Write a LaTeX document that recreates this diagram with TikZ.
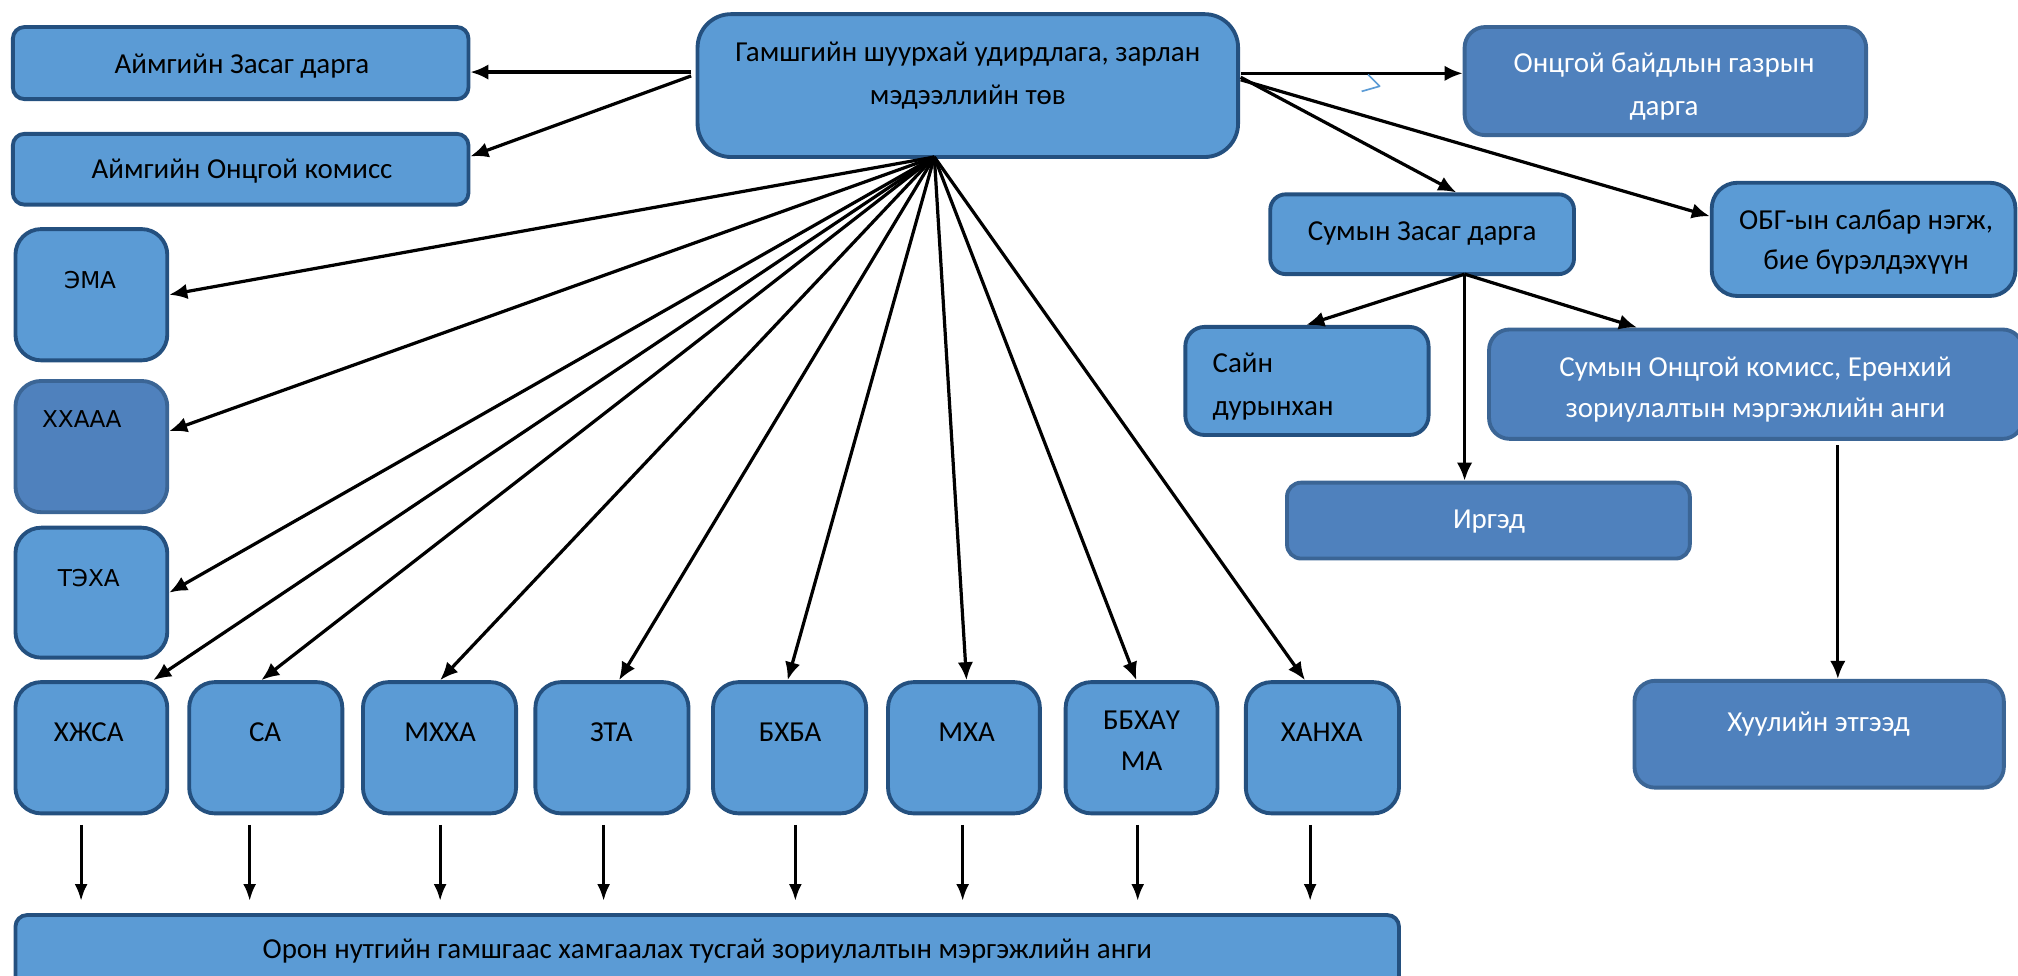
\documentclass[tikz,border=0pt]{standalone}
\usepackage{fontspec}
\setmainfont{Carlito}
\newfontfamily\dvs{DejaVu Sans}
\usetikzlibrary{arrows.meta,calc}
\definecolor{lfill}{HTML}{5B9BD5}
\definecolor{lline}{HTML}{24507F}
\definecolor{dfill}{HTML}{4F81BD}
\definecolor{dline}{HTML}{3B6595}
\tikzset{
  lbox/.style={draw=lline, fill=lfill, line width=3pt, inner sep=0pt},
  dbox/.style={draw=dline, fill=dfill, line width=3pt, inner sep=0pt},
  txt/.style={font=\fontsize{22.5}{33}\selectfont, align=center, inner sep=0pt, anchor=base, text=black},
  wtxt/.style={txt, text=white},
  stxt/.style={font=\dvs\fontsize{18}{24}\selectfont, inner sep=0pt, anchor=base, text=black},
  arr/.style={line width=2.5pt, -{Latex[length=14pt,width=12pt]}},
  darr/.style={line width=2.3pt, -{Latex[length=13pt,width=10pt]}},
}
\newcommand\mybox[7]{\node[#1, rounded corners=#7pt, minimum width=#5pt-#3pt, minimum height=#6pt-#4pt] (#2) at ({(#3+#5)/2},{(#4+#6)/2}) {};}
\begin{document}
\begin{tikzpicture}[x=1pt,y=-1pt]
\useasboundingbox (0,0) rectangle (1568,757.6);
\clip (0,0) rectangle (1568,757.6);
% boxes
\mybox{lbox}{a1}{10}{21}{364}{77}{9}
\mybox{lbox}{a2}{10}{104}{364}{159}{9}
\mybox{lbox}{main}{542}{11}{962}{122}{26}
\mybox{dbox}{obg}{1138}{21}{1450}{105}{16}
\mybox{lbox}{szd}{987}{151}{1223}{213}{12}
\mybox{lbox}{obgs}{1330}{142}{1566}{230}{20}
\mybox{lbox}{sain}{921}{254}{1110}{338}{15}
\mybox{dbox}{sok}{1157}{256}{1572}{341}{16}
\mybox{dbox}{irg}{1000}{375}{1313}{434}{11}
\mybox{dbox}{huul}{1270}{529}{1557}{612}{16}
\mybox{lbox}{ema}{12}{178}{130}{280}{20}
\mybox{dbox}{xx}{12}{296}{130}{398}{20}
\mybox{lbox}{tex}{12}{410}{130}{511}{20}
\mybox{lbox}{b1}{12}{530}{130}{632}{20}
\mybox{lbox}{b2}{147}{530}{266}{632}{20}
\mybox{lbox}{b3}{282}{530}{401}{632}{20}
\mybox{lbox}{b4}{416}{530}{535}{632}{20}
\mybox{lbox}{b5}{554}{530}{673}{632}{20}
\mybox{lbox}{b6}{690}{530}{808}{632}{20}
\mybox{lbox}{b7}{828}{530}{946}{632}{20}
\mybox{lbox}{b8}{968}{530}{1087}{632}{20}
\mybox{lbox}{bot}{12}{711}{1087}{770}{9}
% texts (multi-line nodes: base = last line)
\node[txt] at (188,57) {Аймгийн Засаг дарга};
\node[txt] at (188,138.5) {Аймгийн Онцгой комисс};
\node[txt, font=\fontsize{22.5}{34}\selectfont] at (752,81.5) {Гамшгийн шуурхай удирдлага, зарлан\\мэдээллийн төв};
\node[wtxt] at (1293,89.5) {Онцгой байдлын газрын\\дарга};
\node[txt] at (1105,186.5) {Сумын Засаг дарга};
\node[txt, font=\fontsize{22.5}{31}\selectfont] at (1450,209.5) {ОБГ-ын салбар нэгж,\\бие бүрэлдэхүүн};
\node[wtxt, font=\fontsize{22.5}{32}\selectfont] at (1364,324.5) {Сумын Онцгой комисс, Ерөнхий\\зориулалтын мэргэжлийн анги};
\node[txt, anchor=base west, align=left] at (942,322.5) {Сайн\\дурынхан};
\node[wtxt] at (1157,410.5) {Иргэд};
\node[wtxt] at (1413,568.5) {Хуулийн этгээд};
\node[stxt] at (70,224) {ЭМА};
\node[stxt] at (63.5,332.5) {ХХААА};
\node[stxt] at (69,455.5) {ТЭХА};
\node[txt] at (69,576.5) {ХЖСА};
\node[txt] at (206,576.5) {СА};
\node[txt] at (342,576.5) {МХХА};
\node[txt] at (475,576.5) {ЗТА};
\node[txt] at (614,576.5) {БХБА};
\node[txt] at (751,576.5) {МХА};
\node[txt, font=\fontsize{22.5}{32}\selectfont] at (887,598.5) {ББХАҮ\\МА};
\node[txt] at (1027,576.5) {ХАНХА};
\node[txt] at (549.5,744.5) {Орон нутгийн гамшгаас хамгаалах тусгай зориулалтын мэргэжлийн анги};
% connector end points
\coordinate (mL1) at (537,56);
\coordinate (mL2) at (537,59);
\coordinate (mR1) at (964,57);
\coordinate (mR2) at (964,60);
\coordinate (mR3) at (964,62);
\coordinate (fan) at (726,122);
\coordinate (szap) at (1138,213);
\coordinate (sokout) at (1428,346);
% main to left
\draw[arr] (mL1) -- (mL1 -| a1.east);
\draw[arr] (mL2) -- ([yshift=10pt]a2.east);
% main to right
\draw[arr] (mR1) -- (mR1 -| obg.west);
\draw[arr] (mR2) -- ([xshift=26.5pt]szd.north);
\draw[arr] (mR3) -- ([yshift=18pt]obgs.west);
% fan
\draw[arr] (fan) -- (ema.east);
\draw[arr] (fan) -- ([yshift=12pt]xx.east);
\draw[arr] (fan) -- (tex.east);
\draw[arr] (fan) -- ([xshift=48pt]b1.north);
\draw[arr] (fan) -- ([xshift=-3.5pt]b2.north);
\draw[arr] (fan) -- ([xshift=0.5pt]b3.north);
\draw[arr] (fan) -- ([xshift=5.5pt]b4.north);
\draw[arr] (fan) -- ([xshift=-1.5pt]b5.north);
\draw[arr] (fan) -- ([xshift=2pt]b6.north);
\draw[arr] (fan) -- ([xshift=-4pt]b7.north);
\draw[arr] (fan) -- ([xshift=-13.5pt]b8.north);
% sum level
\draw[arr] (szap) -- ([xshift=-0.5pt]sain.north);
\draw[arr] (szap) -- (szap |- irg.north);
\draw[arr] (szap) -- ([xshift=-92.5pt]sok.north);
\draw[arr] (sokout) -- (sokout |- huul.north);
% bottom arrows
\foreach \x [count=\i] in {63,194,342,469,618,748,884,1018}{
  \coordinate (s\i) at (\x,641);
  \coordinate (t\i) at (\x,700);
  \draw[darr] (s\i) -- (t\i);
}
% stray blue stroke
\draw[lfill, line width=1.3pt, line join=round] (1063,58) -- (1072,67) -- (1058,71);
\end{tikzpicture}
\end{document}
